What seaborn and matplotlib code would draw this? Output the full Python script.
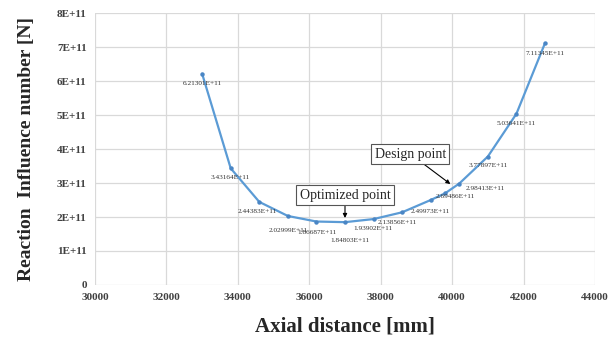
import matplotlib
matplotlib.use("Agg")
import matplotlib.pyplot as plt
import seaborn as sns
import pandas as pd

# ---- data ----
axial_distance = [33000, 33800, 34600, 35400, 36200, 37000, 37800, 38600,
                  39400, 39800, 40200, 41000, 41800, 42600]
reaction_influence = [6.21301e11, 3.43164e11, 2.44383e11, 2.02999e11, 1.86687e11,
                      1.84803e11, 1.93902e11, 2.13856e11, 2.49973e11, 2.69486e11,
                      2.98413e11, 3.77897e11, 5.03641e11, 7.11345e11]
# label offsets (pixels) for each data label
label_dx = [0, 0, -2, 0, 1, 5, -1, -5, 0, 10, 26, 0, 0, 0]
label_dy = [-10, -9, -10, -15, -11, -18, -9, -10, -11, -3, -5, -9, -10, -10]

x_ticks = [30000, 32000, 34000, 36000, 38000, 40000, 42000, 44000]
y_ticks = [0, 1e11, 2e11, 3e11, 4e11, 5e11, 6e11, 7e11, 8e11]
y_tick_labels = ["0", "1E+11", "2E+11", "3E+11", "4E+11", "5E+11", "6E+11", "7E+11", "8E+11"]

optimized_point = (37000, 1.84803e11)
design_point = (39950, 2.97e11)

df = pd.DataFrame({"x": axial_distance, "y": reaction_influence})

sns.set_style("white")
plt.rcParams['font.family'] = ['Liberation Serif', 'DejaVu Serif']

fig = plt.figure(figsize=(6.11, 3.40), dpi=100)
ax = fig.add_axes([95/611, 1-285/340, 500/611, 272/340])

line_color = "#5b9bd5"
sns.lineplot(data=df, x="x", y="y", ax=ax, color=line_color, linewidth=1.6,
             marker="o", markersize=3.2, markeredgewidth=0, markerfacecolor="#4a86c5")

for xv, yv, dx, dy in zip(axial_distance, reaction_influence, label_dx, label_dy):
    ax.annotate(f"{yv:.5E}", xy=(xv, yv), xytext=(dx, dy), textcoords="offset pixels",
                ha="center", va="center", fontsize=5.2, color="#333333")

ax.set_xlim(30000, 44000)
ax.set_ylim(0, 8e11)
ax.set_xticks(x_ticks)
ax.set_xticklabels([str(t) for t in x_ticks])
ax.set_yticks(y_ticks)
ax.set_yticklabels(y_tick_labels)
ax.grid(True, color="#d9d9d9", linewidth=0.9)
ax.set_axisbelow(True)
for s in ax.spines.values():
    s.set_visible(False)
ax.tick_params(axis="both", length=0, labelsize=8, labelcolor="#404040", pad=6)
for lab in ax.get_xticklabels() + ax.get_yticklabels():
    lab.set_fontweight("bold")

ax.set_xlabel("Axial distance [mm]", fontsize=15, fontweight="bold", labelpad=10)
ax.set_ylabel("Reaction  Influence number [N]", fontsize=14, fontweight="bold", labelpad=16)

box = dict(boxstyle="square,pad=0.25", facecolor="white", edgecolor="#555555", linewidth=0.8)
ax.annotate("Optimized point", xy=optimized_point, xytext=(0, 27), textcoords="offset pixels",
            ha="center", va="center", fontsize=10, bbox=box,
            arrowprops=dict(arrowstyle="-|>", color="black", lw=0.8, mutation_scale=6, shrinkA=0, shrinkB=3))
ax.annotate("Design point", xy=design_point, xytext=(-40, 30), textcoords="offset pixels",
            ha="center", va="center", fontsize=10, bbox=box,
            arrowprops=dict(arrowstyle="-|>", color="black", lw=0.8, mutation_scale=6, shrinkA=0, shrinkB=0))

fig.savefig("out.png", dpi=100)
